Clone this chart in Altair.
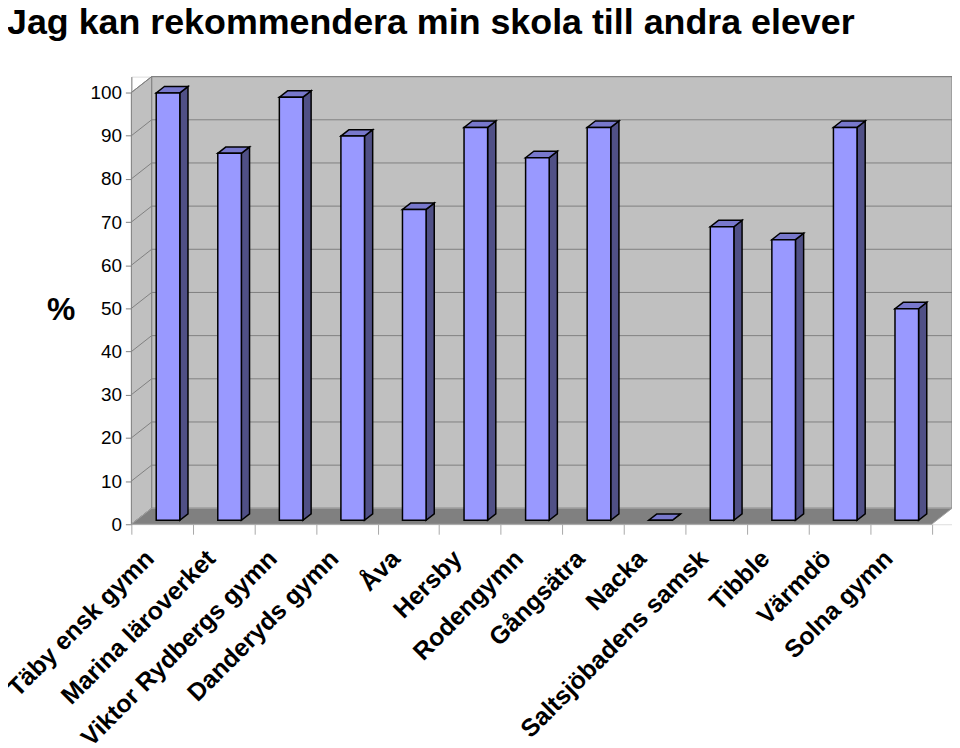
import json
import altair as alt
import pandas as pd

# ---------------- data ----------------
categories = ["Täby ensk gymn", "Marina läroverket", "Viktor Rydbergs gymn",
              "Danderyds gymn", "Åva", "Hersby", "Rodengymn", "Gångsätra",
              "Nacka", "Saltsjöbadens samsk", "Tibble", "Värmdö", "Solna gymn"]
values = [99, 85, 98, 89, 72, 91, 84, 91, 0, 68, 65, 91, 49]
y_ticks = list(range(0, 101, 10))
title_text = "Jag kan rekommendera min skola till andra elever"
y_title = "%"

# ---------------- 3D geometry (scale units) ----------------
N = len(categories)
DX, DY = 0.33, 3.69        # wall / floor depth
BY0 = 0.92                 # bar base plane shift
BDX, BDY = 0.133, 1.48     # bar depth
BL, BR = 0.404, 0.787      # bar front face within a category
XMAX = N + DX
YMAX = 100 + DY

FONT = "Liberation Sans"
xs = alt.Scale(domain=[0, XMAX], nice=False, zero=False)
ys = alt.Scale(domain=[0, YMAX], nice=False, zero=False)

# tables built from the arrays
front = pd.DataFrame({
    "cat": categories,
    "x": [i + BL for i in range(N)],
    "x2": [i + BR for i in range(N)],
    "y": [BY0] * N,
    "y2": [BY0 + v for v in values],
})
side_rows, top_rows = [], []
for i, (c, v) in enumerate(zip(categories, values)):
    side_rows.append({"cat": c, "x": i + BR, "y": BY0 + v, "bot": BY0})
    side_rows.append({"cat": c, "x": i + BR + BDX, "y": BY0 + v + BDY, "bot": BY0 + BDY})
    top_rows.append({"cat": c, "y": BY0 + v, "x": i + BL, "xr": i + BR})
    top_rows.append({"cat": c, "y": BY0 + v + BDY, "x": i + BL + BDX, "xr": i + BR + BDX})
side = pd.DataFrame(side_rows)
top = pd.DataFrame(top_rows)

back = pd.DataFrame({"x": [DX], "x2": [XMAX], "y": [DY], "y2": [YMAX]})
leftwall = pd.DataFrame({"x": [0, DX], "y": [100, YMAX], "bot": [0, DY]})
floor = pd.DataFrame({"y": [0, DY], "x": [0, DX], "xr": [N, XMAX]})
grid_back = pd.DataFrame({"x": [DX] * len(y_ticks), "x2": [XMAX] * len(y_ticks),
                          "y": [v + DY for v in y_ticks]})
gl = []
for v in y_ticks:
    gl.append({"g": v, "x": 0, "y": v})
    gl.append({"g": v, "x": DX, "y": v + DY})
grid_left = pd.DataFrame(gl)

label_expr = "(" + json.dumps(categories, ensure_ascii=False) + ")[datum.value] || ''"

x_axis = alt.Axis(values=list(range(N + 1)), labelExpr=label_expr, labelAngle=-45,
                  labelAlign="right", labelBaseline="middle", labelOffset=18,
                  labelPadding=20, tickSize=10, tickColor="#a8a8a8", domain=False,
                  grid=False, labelFont=FONT, labelFontSize=25, labelFontWeight="bold",
                  labelColor="black", labelLimit=600, labelOverlap=False,
                  labelFlush=False, title=None)
y_axis = alt.Axis(values=y_ticks, grid=False, domainColor="#808080", tickColor="#808080",
                  tickSize=6, labelPadding=4, labelFont=FONT, labelFontSize=19,
                  labelColor="black", title=y_title, titleAngle=0, titleX=-71, titleY=234,
                  titleAlign="center", titleBaseline="middle", titleFont=FONT,
                  titleFontSize=32, titleFontWeight="bold", titleColor="black")

X = alt.X("x:Q", scale=xs, axis=x_axis)
Y = alt.Y("y:Q", scale=ys, axis=y_axis)

wall = alt.Chart(back).mark_rect(fill="#C0C0C0", stroke="#808080", strokeWidth=1).encode(
    x=X, x2="x2:Q", y=Y, y2="y2:Q")

lwall = alt.Chart(leftwall).mark_area(fill="#C0C0C0", stroke="#808080", strokeWidth=1).encode(
    x=X, y=Y, y2="bot:Q")

gback = alt.Chart(grid_back).mark_rule(color="#808080", strokeWidth=1).encode(
    x=X, x2="x2:Q", y=Y)

gleft = alt.Chart(grid_left).mark_line(color="#808080", strokeWidth=1).encode(
    x=X, y=Y, detail="g:N")

flr = alt.Chart(floor).mark_area(orient="horizontal", fill="#808080",
                                 stroke="#a0a0a0", strokeWidth=1).encode(
    y=Y, x=X, x2="xr:Q")

sides = alt.Chart(side).mark_area(fill="#505086", stroke="black", strokeWidth=1.5).encode(
    x=X, y=Y, y2="bot:Q", detail="cat:N")

tops = alt.Chart(top).mark_area(
    orient="horizontal", fill="#7878CC", stroke="black", strokeWidth=1.5).encode(
    y=Y, x=X, x2="xr:Q", detail="cat:N")

fronts = alt.Chart(front).mark_rect(fill="#9999FF", stroke="black", strokeWidth=1.5).encode(
    x=X, x2="x2:Q", y=Y, y2="y2:Q")

chart = alt.layer(wall, lwall, gback, gleft, flr, sides, tops, fronts).properties(
    width=825, height=450,
    title=alt.TitleParams(title_text, anchor="start", frame="group", dx=-125,
                          fontSize=36, font=FONT, fontWeight="bold", color="black",
                          baseline="alphabetic", offset=5),
    autosize=alt.AutoSizeParams(type="none"),
    padding={"left": 124, "top": 67, "right": 0, "bottom": 230},
).configure_view(strokeWidth=0).configure(background="white")

chart.save("out.html", embed_options={"renderer": "svg", "actions": False})
